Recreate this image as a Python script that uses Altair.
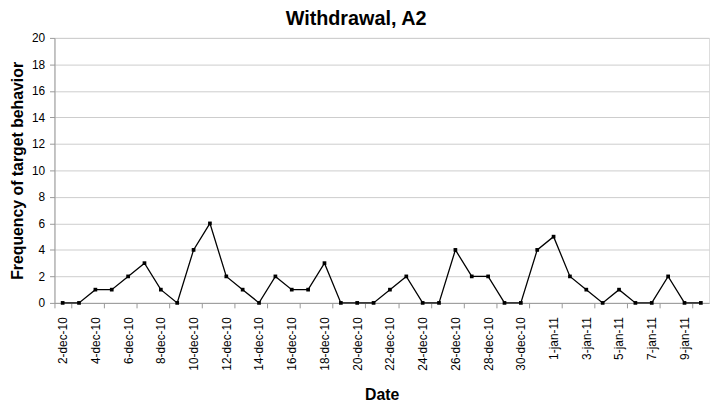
import altair as alt
import pandas as pd

dates = [
    "2-dec-10", "3-dec-10", "4-dec-10", "5-dec-10", "6-dec-10", "7-dec-10",
    "8-dec-10", "9-dec-10", "10-dec-10", "11-dec-10", "12-dec-10", "13-dec-10",
    "14-dec-10", "15-dec-10", "16-dec-10", "17-dec-10", "18-dec-10", "19-dec-10",
    "20-dec-10", "21-dec-10", "22-dec-10", "23-dec-10", "24-dec-10", "25-dec-10",
    "26-dec-10", "27-dec-10", "28-dec-10", "29-dec-10", "30-dec-10", "31-dec-10",
    "1-jan-11", "2-jan-11", "3-jan-11", "4-jan-11", "5-jan-11", "6-jan-11",
    "7-jan-11", "8-jan-11", "9-jan-11", "10-jan-11",
]
counts = [
    0, 0, 1, 1, 2, 3, 1, 0, 4, 6,
    2, 1, 0, 2, 1, 1, 3, 0, 0, 0,
    1, 2, 0, 0, 4, 2, 2, 0, 0, 4,
    5, 2, 1, 0, 1, 0, 0, 2, 0, 0,
]
label_dates = dates[::2]
y_ticks = list(range(0, 21, 2))

df = pd.DataFrame({"date": dates, "count": counts})

FONT = "Liberation Sans"

x_enc = alt.X(
    "date:N",
    sort=dates,
    bandPosition=0.5,
    scale=alt.Scale(type="band", domain=dates, paddingInner=0, paddingOuter=0),
    axis=alt.Axis(
        values=label_dates,
        labelAngle=270,
        tickBand="extent",
        tickSize=5,
        tickColor="#999999",
        domainColor="#999999",
        labelFont=FONT,
        labelFontSize=12,
        labelColor="black",
        labelPadding=9,
        grid=False,
        title="Date",
        titleFont=FONT,
        titleFontSize=16,
        titleFontWeight="bold",
        titleColor="black",
        titleBaseline="alphabetic",
        titleY=98,
    ),
)
y_enc = alt.Y(
    "count:Q",
    scale=alt.Scale(domain=[0, 20], nice=False, zero=True),
    axis=alt.Axis(
        values=y_ticks,
        grid=True,
        gridColor="#cccccc",
        tickSize=5,
        tickColor="#999999",
        domainColor="#999999",
        labelFont=FONT,
        labelFontSize=12,
        labelColor="black",
        labelPadding=5,
        title="Frequency of target behavior",
        titleFont=FONT,
        titleFontSize=16,
        titleFontWeight="bold",
        titleColor="black",
        titleBaseline="alphabetic",
        titleAngle=270,
        titleX=-32,
        titleY=134,
    ),
)

base = alt.Chart(df).encode(x=x_enc, y=y_enc)
line = base.mark_line(color="black", strokeWidth=1.3)
pts = base.mark_point(shape="square", filled=True, size=14, color="black", opacity=1)

chart = (
    alt.layer(line, pts)
    .properties(
        width=662,
        height=268,
        autosize=alt.AutoSizeParams(type="none"),
        padding={"left": 47, "top": 28, "right": 3, "bottom": 100},
        title=alt.TitleParams(
            "Withdrawal, A2",
            font=FONT,
            fontSize=20,
            fontWeight="bold",
            color="black",
            anchor="middle",
            baseline="alphabetic",
            offset=0,
            dy=13,
            dx=-26,
        ),
    )
    .configure_view(stroke="#bbbbbb", strokeWidth=1)
    .configure(background="white")
)

chart.save("out.html", embed_options={"renderer": "svg", "actions": False})
